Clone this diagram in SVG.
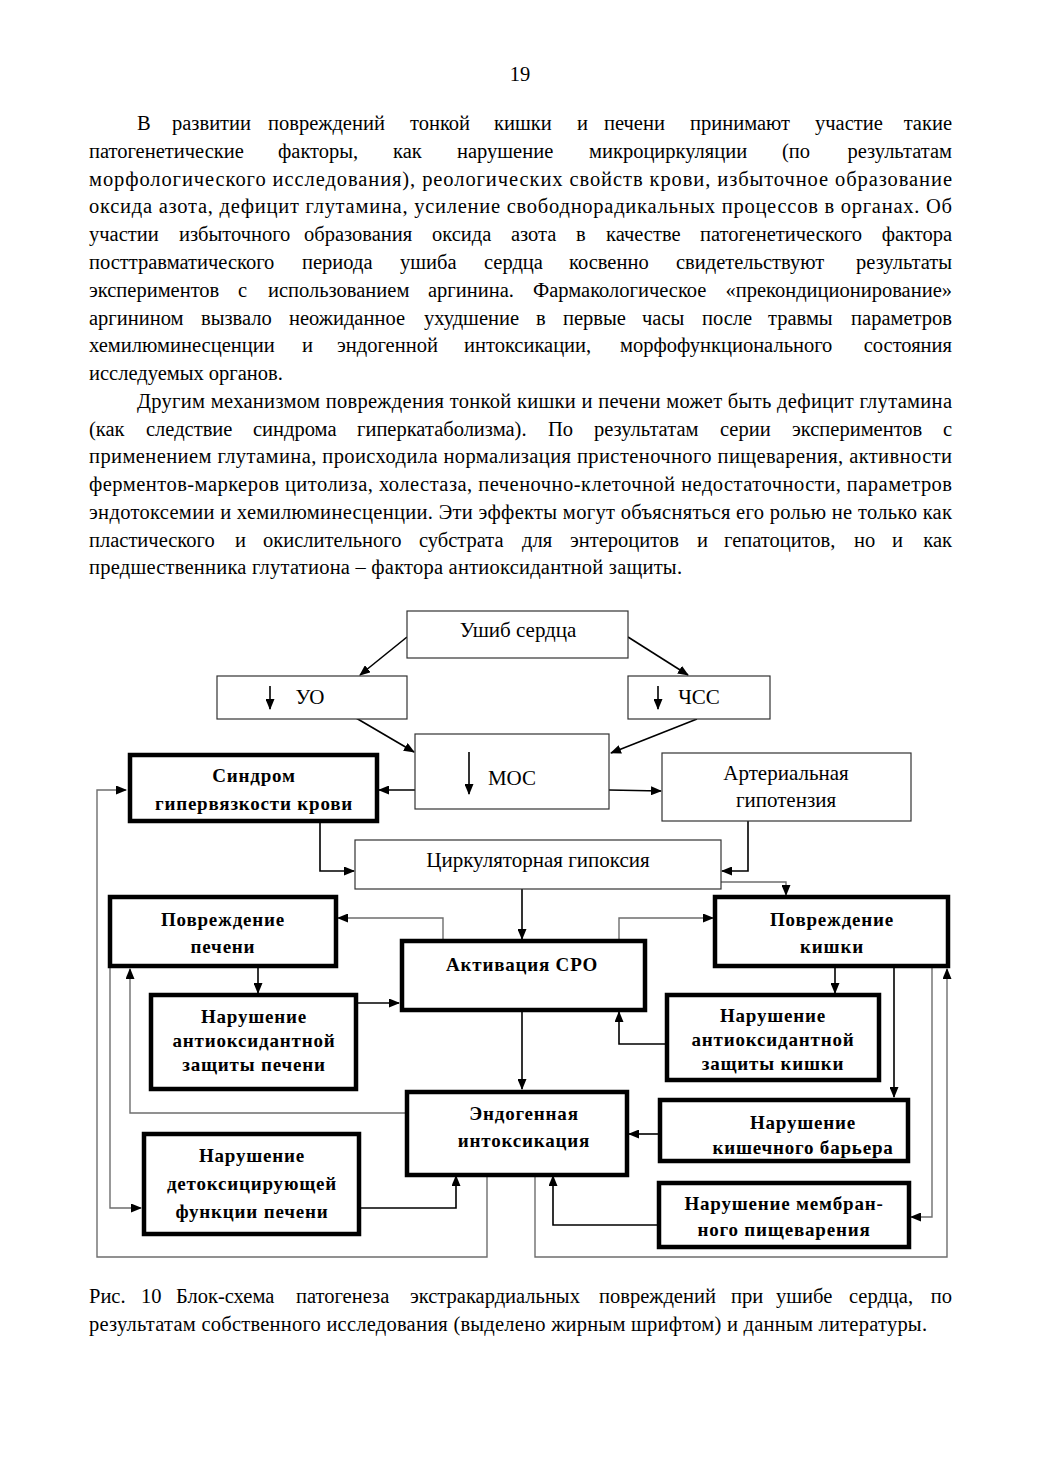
<svg xmlns="http://www.w3.org/2000/svg" width="1040" height="1471" viewBox="0 0 1040 1471">
<style>
.p{font-family:"Liberation Serif","Times New Roman",serif;font-size:20.5px;fill:#000}
.e{text-anchor:end}
.n{font-family:"Liberation Serif","Times New Roman",serif;font-size:21px;fill:#000;text-anchor:middle}
.b{font-family:"Liberation Serif","Times New Roman",serif;font-size:19px;font-weight:bold;letter-spacing:0.8px;fill:#000;text-anchor:middle}
.thin{fill:#fff;stroke:#333;stroke-width:1.2}
.thick{fill:#fff;stroke:#000;stroke-width:4.5}
.c{fill:none;stroke:#000;stroke-width:1.6}
.g{fill:none;stroke:#6e6e6e;stroke-width:1.4}
</style>
<defs>
<marker id="a" markerUnits="userSpaceOnUse" markerWidth="11" markerHeight="9" refX="10" refY="4.5" orient="auto"><path d="M0,0 L11,4.5 L0,9 z" fill="#000"/></marker>
</defs>
<rect width="1040" height="1471" fill="#fff"/>
<g id="page-text">
<text class="p" x="520" y="81" text-anchor="middle">19</text>
<text class="p" y="130"><tspan x="137">В</tspan><tspan x="172">развитии</tspan><tspan x="268">повреждений</tspan><tspan x="410">тонкой</tspan><tspan x="494">кишки</tspan><tspan x="577">и</tspan><tspan x="604">печени</tspan><tspan x="690">принимают</tspan><tspan x="815">участие</tspan><tspan class="e" x="952">такие</tspan></text>
<text class="p" y="158"><tspan x="89">патогенетические</tspan><tspan x="278">факторы,</tspan><tspan x="393">как</tspan><tspan x="457">нарушение</tspan><tspan x="589">микроциркуляции</tspan><tspan x="782">(по</tspan><tspan class="e" x="952">результатам</tspan></text>
<text class="p" x="89" y="186" textLength="863" lengthAdjust="spacing">морфологического исследования), реологических свойств крови, избыточное образование</text>
<text class="p" x="89" y="213" textLength="863" lengthAdjust="spacing">оксида азота, дефицит глутамина, усиление свободнорадикальных процессов в органах. Об</text>
<text class="p" y="241"><tspan x="89">участии</tspan><tspan x="179">избыточного</tspan><tspan x="304">образования</tspan><tspan x="432">оксида</tspan><tspan x="511">азота</tspan><tspan x="576">в</tspan><tspan x="606">качестве</tspan><tspan x="700">патогенетического</tspan><tspan class="e" x="952">фактора</tspan></text>
<text class="p" y="269"><tspan x="89">посттравматического</tspan><tspan x="302">периода</tspan><tspan x="400">ушиба</tspan><tspan x="484">сердца</tspan><tspan x="569">косвенно</tspan><tspan x="676">свидетельствуют</tspan><tspan class="e" x="952">результаты</tspan></text>
<text class="p" y="297"><tspan x="89">экспериментов</tspan><tspan x="238">с</tspan><tspan x="268">использованием</tspan><tspan x="428">аргинина.</tspan><tspan x="533">Фармакологическое</tspan><tspan class="e" x="952">«прекондиционирование»</tspan></text>
<text class="p" y="325"><tspan x="89">аргинином</tspan><tspan x="201">вызвало</tspan><tspan x="289">неожиданное</tspan><tspan x="424">ухудшение</tspan><tspan x="536">в</tspan><tspan x="563">первые</tspan><tspan x="642">часы</tspan><tspan x="702">после</tspan><tspan x="768">травмы</tspan><tspan class="e" x="952">параметров</tspan></text>
<text class="p" y="352"><tspan x="89">хемилюминесценции</tspan><tspan x="302">и</tspan><tspan x="337">эндогенной</tspan><tspan x="464">интоксикации,</tspan><tspan x="620">морфофункционального</tspan><tspan class="e" x="952">состояния</tspan></text>
<text class="p" x="89" y="380">исследуемых органов.</text>
<text class="p" x="137" y="408" textLength="815" lengthAdjust="spacing">Другим механизмом повреждения тонкой кишки и печени может быть дефицит глутамина</text>
<text class="p" y="436"><tspan x="89">(как</tspan><tspan x="146">следствие</tspan><tspan x="253">синдрома</tspan><tspan x="357">гиперкатаболизма).</tspan><tspan x="548">По</tspan><tspan x="594">результатам</tspan><tspan x="720">серии</tspan><tspan x="792">экспериментов</tspan><tspan class="e" x="952">с</tspan></text>
<text class="p" x="89" y="463" textLength="863" lengthAdjust="spacing">применением глутамина, происходила нормализация пристеночного пищеварения, активности</text>
<text class="p" x="89" y="491" textLength="863" lengthAdjust="spacing">ферментов-маркеров цитолиза, холестаза, печеночно-клеточной недостаточности, параметров</text>
<text class="p" x="89" y="519" textLength="863" lengthAdjust="spacing">эндотоксемии и хемилюминесценции. Эти эффекты могут объясняться его ролью не только как</text>
<text class="p" y="547"><tspan x="89">пластического</tspan><tspan x="235">и</tspan><tspan x="263">окислительного</tspan><tspan x="419">субстрата</tspan><tspan x="522">для</tspan><tspan x="570">энтероцитов</tspan><tspan x="697">и</tspan><tspan x="724">гепатоцитов,</tspan><tspan x="854">но</tspan><tspan x="892">и</tspan><tspan class="e" x="952">как</tspan></text>
<text class="p" x="89" y="574" textLength="593" lengthAdjust="spacing">предшественника глутатиона – фактора антиоксидантной защиты.</text>
<text class="p" y="1303"><tspan x="89">Рис.</tspan><tspan x="141">10</tspan><tspan x="176">Блок-схема</tspan><tspan x="296">патогенеза</tspan><tspan x="410">экстракардиальных</tspan><tspan x="599">повреждений</tspan><tspan x="731">при</tspan><tspan x="776">ушибе</tspan><tspan x="849">сердца,</tspan><tspan class="e" x="952">по</tspan></text>
<text class="p" x="89" y="1331" textLength="838" lengthAdjust="spacing">результатам собственного исследования (выделено жирным шрифтом) и данным литературы.</text>
</g>
<g id="connectors">
<line class="c" x1="407" y1="637" x2="360" y2="675" marker-end="url(#a)"/>
<line class="c" x1="628" y1="637" x2="688" y2="675" marker-end="url(#a)"/>
<line class="c" x1="356" y1="718" x2="414" y2="752" marker-end="url(#a)"/>
<line class="c" x1="697" y1="719" x2="611" y2="753" marker-end="url(#a)"/>
<line class="c" x1="415" y1="790" x2="379" y2="790" marker-end="url(#a)"/>
<line class="c" x1="609" y1="790" x2="661" y2="791" marker-end="url(#a)"/>
<polyline class="c" points="320,823 320,871 354,871" marker-end="url(#a)"/>
<polyline class="c" points="748,821 748,871 722,871" marker-end="url(#a)"/>
<polyline class="g" points="721,882 786,882 786,895" marker-end="url(#a)"/>
<line class="c" x1="522" y1="889" x2="522" y2="939" marker-end="url(#a)"/>
<polyline class="g" points="443,940 443,918 338,918" marker-end="url(#a)"/>
<polyline class="g" points="619,940 619,918 713,918" marker-end="url(#a)"/>
<line class="c" x1="258" y1="968" x2="258" y2="993" marker-end="url(#a)"/>
<line class="c" x1="357" y1="1003" x2="399" y2="1003" marker-end="url(#a)"/>
<line class="c" x1="835" y1="968" x2="835" y2="993" marker-end="url(#a)"/>
<polyline class="c" points="665,1044 619,1044 619,1012" marker-end="url(#a)"/>
<line class="c" x1="522" y1="1011" x2="522" y2="1089" marker-end="url(#a)"/>
<polyline class="g" points="406,1113 130,1113 130,969" marker-end="url(#a)"/>
<polyline class="g" points="487,1175 487,1257 97,1257 97,790 126,790" marker-end="url(#a)"/>
<polyline class="g" points="110,968 110,1208 141,1208" marker-end="url(#a)"/>
<polyline class="c" points="360,1208 456,1208 456,1176" marker-end="url(#a)"/>
<polyline class="g" points="535,1175 535,1257 947,1257 947,969" marker-end="url(#a)"/>
<line class="c" x1="894" y1="968" x2="894" y2="1097" marker-end="url(#a)"/>
<polyline class="g" points="932,968 932,1217 911,1217" marker-end="url(#a)"/>
<line class="c" x1="659" y1="1134" x2="629" y2="1134" marker-end="url(#a)"/>
<polyline class="c" points="658,1225 553,1225 553,1176" marker-end="url(#a)"/>
</g>
<g id="n-ushib"><rect class="thin" x="407" y="611" width="221" height="47"/><text class="n" x="518" y="637">Ушиб сердца</text></g>
<g id="n-uo"><rect class="thin" x="217" y="676" width="190" height="43"/><line class="c" x1="270" y1="686" x2="270" y2="709" marker-end="url(#a)"/><text class="n" x="310" y="704">УО</text></g>
<g id="n-chss"><rect class="thin" x="628" y="676" width="142" height="43"/><line class="c" x1="658" y1="686" x2="658" y2="709" marker-end="url(#a)"/><text class="n" x="699" y="704">ЧСС</text></g>
<g id="n-mos"><rect class="thin" x="415" y="734" width="194" height="75"/><line class="c" x1="469" y1="752" x2="469" y2="794" marker-end="url(#a)"/><text class="n" x="512" y="785">МОС</text></g>
<g id="n-sindrom"><rect class="thick" x="130" y="755" width="247" height="66"/><text class="b" x="254" y="782">Синдром</text><text class="b" x="254" y="810">гипервязкости крови</text></g>
<g id="n-arter"><rect class="thin" x="662" y="753" width="249" height="68"/><text class="n" x="786" y="780">Артериальная</text><text class="n" x="786" y="807">гипотензия</text></g>
<g id="n-circ"><rect class="thin" x="355" y="840" width="366" height="49"/><text class="n" x="538" y="867">Циркуляторная гипоксия</text></g>
<g id="n-liver"><rect class="thick" x="110" y="897" width="226" height="69"/><text class="b" x="223" y="926">Повреждение</text><text class="b" x="223" y="953">печени</text></g>
<g id="n-sro"><rect class="thick" x="402" y="941" width="243" height="69"/><text class="b" x="522" y="971">Активация СРО</text></g>
<g id="n-gut"><rect class="thick" x="715" y="897" width="233" height="69"/><text class="b" x="832" y="926">Повреждение</text><text class="b" x="832" y="953">кишки</text></g>
<g id="n-ao-liver"><rect class="thick" x="151" y="995" width="205" height="94"/><text class="b" x="254" y="1023">Нарушение</text><text class="b" x="254" y="1047">антиоксидантной</text><text class="b" x="254" y="1071">защиты печени</text></g>
<g id="n-ao-gut"><rect class="thick" x="667" y="995" width="212" height="85"/><text class="b" x="773" y="1022">Нарушение</text><text class="b" x="773" y="1046">антиоксидантной</text><text class="b" x="773" y="1070">защиты кишки</text></g>
<g id="n-endo"><rect class="thick" x="407" y="1092" width="220" height="83"/><text class="b" x="524" y="1120">Эндогенная</text><text class="b" x="524" y="1147">интоксикация</text></g>
<g id="n-barrier"><rect class="thick" x="660" y="1100" width="248" height="61"/><text class="b" x="803" y="1129">Нарушение</text><text class="b" x="803" y="1154">кишечного барьера</text></g>
<g id="n-detox"><rect class="thick" x="144" y="1134" width="215" height="100"/><text class="b" x="252" y="1162">Нарушение</text><text class="b" x="252" y="1190">детоксицирующей</text><text class="b" x="252" y="1218">функции печени</text></g>
<g id="n-membr"><rect class="thick" x="659" y="1183" width="250" height="64"/><text class="b" x="784" y="1210">Нарушение мембран-</text><text class="b" x="784" y="1236">ного пищеварения</text></g>
</svg>
